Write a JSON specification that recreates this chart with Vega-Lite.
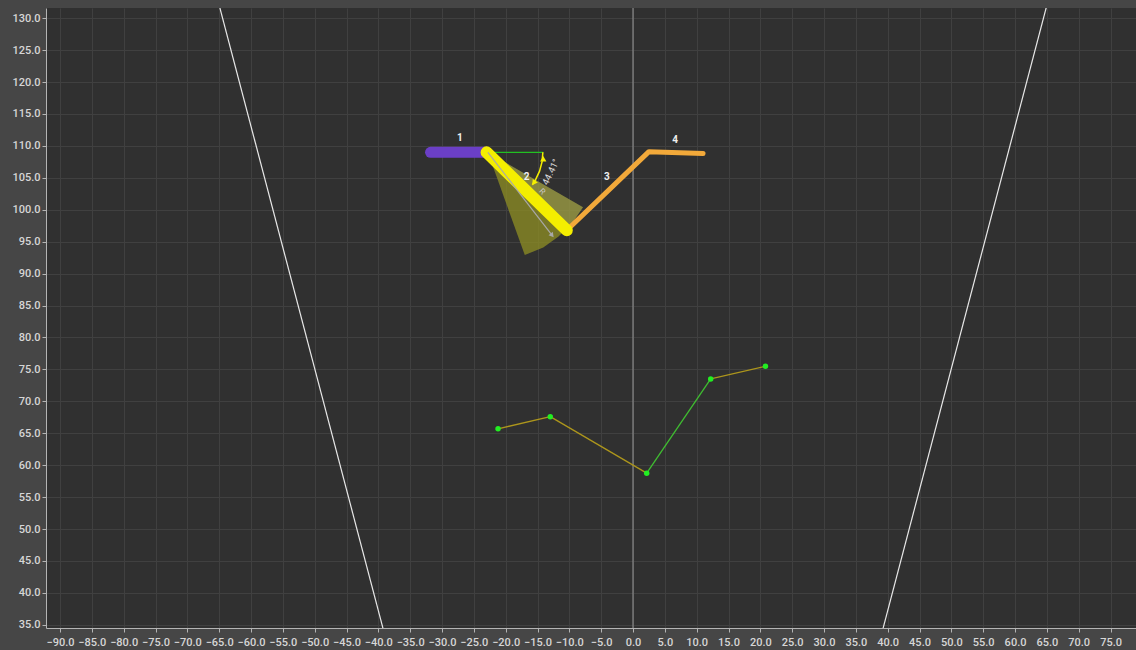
{
  "$schema": "https://vega.github.io/schema/vega-lite/v6.json",
  "width": 1090,
  "height": 620,
  "autosize": {"type": "none"},
  "padding": {"left": 46, "top": 8, "right": 0, "bottom": 22},
  "background": "#464646",
  "config": {
    "view": {"fill": "#303030", "stroke": null},
    "axis": {
      "labelColor": "#d6d6d6",
      "labelFont": "Roboto",
      "labelFontSize": 11,
      "labelFontWeight": 500,
      "gridColor": "#404040",
      "gridWidth": 1,
      "domainColor": "#b4b4b4",
      "tickColor": "#b4b4b4",
      "tickSize": 4,
      "labelOverlap": false,
      "labelFlush": false,
      "title": null
    }
  },
  "datasets": {
    "zero": [{"x": 0, "y": 30}, {"x": 0, "y": 140}],
    "bounds": [
      {"side": "L", "x": -67.1, "y": 140}, {"side": "L", "x": -38.1, "y": 30},
      {"side": "R", "x": 67.1, "y": 140}, {"side": "R", "x": 38.1, "y": 30}
    ],
    "wedge": [
      {"i": 0, "x": -22.8, "y": 109.0}, {"i": 1, "x": -17.0, "y": 92.9},
      {"i": 2, "x": -14.1, "y": 94.1}, {"i": 3, "x": -11.7, "y": 95.8},
      {"i": 4, "x": -9.5, "y": 98.0}, {"i": 5, "x": -7.85, "y": 100.4}
    ],
    "wedgeLight": [
      {"i": 0, "x": -22.8, "y": 109.0}, {"i": 1, "x": -10.4, "y": 97.0},
      {"i": 2, "x": -9.0, "y": 98.7}, {"i": 3, "x": -7.85, "y": 100.4}
    ],
    "ref": [{"x": -22.8, "y": 109.0}, {"x": -14.1, "y": 109.0}],
    "arc": [
      {"i": 0, "x": -14.16, "y": 109.0}, {"i": 1, "x": -14.29, "y": 107.5},
      {"i": 2, "x": -14.68, "y": 106.05}, {"i": 3, "x": -15.32, "y": 104.68},
      {"i": 4, "x": -15.81, "y": 103.92}
    ],
    "arrowheads": [
      {"kind": "up", "x": -14.1, "y": 108.0},
      {"kind": "down", "x": -15.6, "y": 104.2}
    ],
    "garrow": [{"x": -22.8, "y": 109.0}, {"x": -12.7, "y": 96.0}],
    "garrowhead": [{"x": -12.7, "y": 96.0}],
    "arm": [
      {"seg": "1", "i": 0, "x": -31.8, "y": 109.0}, {"seg": "1", "i": 1, "x": -23.0, "y": 109.0},
      {"seg": "2", "i": 0, "x": -23.0, "y": 109.0}, {"seg": "2", "i": 1, "x": -10.4, "y": 96.8},
      {"seg": "3", "i": 0, "x": -10.4, "y": 96.8}, {"seg": "3", "i": 1, "x": 2.5, "y": 109.1},
      {"seg": "3", "i": 2, "x": 11.0, "y": 108.8}
    ],
    "track": [
      {"seg": "a", "kind": "gold", "x": -21.2, "y": 65.7}, {"seg": "a", "kind": "gold", "x": -13.0, "y": 67.6},
      {"seg": "b", "kind": "gold", "x": -13.0, "y": 67.6}, {"seg": "b", "kind": "gold", "x": 2.15, "y": 58.75},
      {"seg": "c", "kind": "green", "x": 2.15, "y": 58.75}, {"seg": "c", "kind": "green", "x": 12.2, "y": 73.5},
      {"seg": "d", "kind": "gold", "x": 12.2, "y": 73.5}, {"seg": "d", "kind": "gold", "x": 20.8, "y": 75.5}
    ],
    "pts": [
      {"x": -21.2, "y": 65.7}, {"x": -13.0, "y": 67.6}, {"x": 2.15, "y": 58.75},
      {"x": 12.2, "y": 73.5}, {"x": 20.8, "y": 75.5}
    ],
    "labels": [
      {"t": "1", "x": -27.2, "y": 111.2}, {"t": "2", "x": -16.7, "y": 105.1},
      {"t": "3", "x": -4.1, "y": 105.1}, {"t": "4", "x": 6.6, "y": 110.9}
    ],
    "angle": [{"t": "44.41°", "x": -12.9, "y": 105.9}],
    "rlabel": [{"t": "R", "x": -14.3, "y": 102.8}]
  },
  "encoding": {
    "x": {
      "field": "x", "type": "quantitative",
      "scale": {"domain": [-92.2, 79.0], "nice": false, "zero": false},
      "axis": {
        "values": [-90,-85,-80,-75,-70,-65,-60,-55,-50,-45,-40,-35,-30,-25,-20,-15,-10,-5,0,5,10,15,20,25,30,35,40,45,50,55,60,65,70,75,80],
        "format": ".1f", "labelPadding": 4
      }
    },
    "y": {
      "field": "y", "type": "quantitative",
      "scale": {"domain": [34.5, 131.6], "nice": false, "zero": false},
      "axis": {
        "values": [35,40,45,50,55,60,65,70,75,80,85,90,95,100,105,110,115,120,125,130],
        "format": ".1f", "labelPadding": 2
      }
    }
  },
  "layer": [
    {"data": {"name": "zero"}, "mark": {"type": "line", "color": "#8a8a8a", "strokeWidth": 1.2, "clip": true}},
    {"data": {"name": "bounds"}, "mark": {"type": "line", "color": "#e8e8e8", "strokeWidth": 1.2, "clip": true},
     "encoding": {"detail": {"field": "side"}}},
    {"data": {"name": "wedge"}, "mark": {"type": "line", "fill": "#8a8a24", "fillOpacity": 0.8, "strokeWidth": 0, "stroke": null},
     "encoding": {"order": {"field": "i"}}},
    {"data": {"name": "wedgeLight"}, "mark": {"type": "line", "fill": "#c8c8b0", "fillOpacity": 0.18, "strokeWidth": 0, "stroke": null},
     "encoding": {"order": {"field": "i"}}},
    {"data": {"name": "ref"}, "mark": {"type": "line", "color": "#22c022", "strokeWidth": 1.2}},
    {"data": {"name": "arm"}, "transform": [{"filter": "datum.seg == '1'"}],
     "mark": {"type": "line", "color": "#6b3fc6", "strokeWidth": 11, "strokeCap": "round"},
     "encoding": {"order": {"field": "i"}}},
    {"data": {"name": "arm"}, "transform": [{"filter": "datum.seg == '3'"}],
     "mark": {"type": "line", "color": "#f2a93a", "strokeWidth": 5, "strokeCap": "round", "strokeJoin": "round"},
     "encoding": {"order": {"field": "i"}}},
    {"data": {"name": "arm"}, "transform": [{"filter": "datum.seg == '2'"}],
     "mark": {"type": "line", "color": "#f4ee00", "strokeWidth": 12, "strokeCap": "round"},
     "encoding": {"order": {"field": "i"}}},
    {"data": {"name": "garrow"}, "mark": {"type": "line", "color": "#a8a8a8", "strokeWidth": 1.2}},
    {"data": {"name": "garrowhead"}, "mark": {"type": "point", "shape": "triangle-up", "filled": true, "color": "#a8a8a8", "size": 30, "angle": 141, "opacity": 1}},
    {"data": {"name": "arc"}, "mark": {"type": "line", "color": "#f4ee00", "strokeWidth": 1.5},
     "encoding": {"order": {"field": "i"}}},
    {"data": {"name": "arrowheads"}, "transform": [{"filter": "datum.kind == 'up'"}],
     "mark": {"type": "point", "shape": "triangle-up", "filled": true, "color": "#f4ee00", "size": 40, "angle": 0, "opacity": 1}},
    {"data": {"name": "arrowheads"}, "transform": [{"filter": "datum.kind == 'down'"}],
     "mark": {"type": "point", "shape": "triangle-up", "filled": true, "color": "#f4ee00", "size": 40, "angle": 216, "opacity": 1}},
    {"data": {"name": "track"}, "mark": {"type": "line", "strokeWidth": 1.3},
     "encoding": {
       "detail": {"field": "seg"},
       "color": {"field": "kind", "type": "nominal", "scale": {"domain": ["gold", "green"], "range": ["#ad961c", "#3fbd30"]}, "legend": null}
     }},
    {"data": {"name": "pts"}, "mark": {"type": "point", "shape": "circle", "filled": true, "color": "#22ee22", "size": 30, "opacity": 1}},
    {"data": {"name": "labels"}, "mark": {"type": "text", "color": "#f0f0f0", "font": "Roboto", "fontSize": 10, "fontWeight": "bold"},
     "encoding": {"text": {"field": "t"}}},
    {"data": {"name": "angle"}, "mark": {"type": "text", "color": "#d8d8d8", "font": "Roboto", "fontSize": 9.5, "angle": 295},
     "encoding": {"text": {"field": "t"}}},
    {"data": {"name": "rlabel"}, "mark": {"type": "text", "color": "#c8c8c8", "font": "Roboto", "fontSize": 8, "angle": 45},
     "encoding": {"text": {"field": "t"}}}
  ]
}
